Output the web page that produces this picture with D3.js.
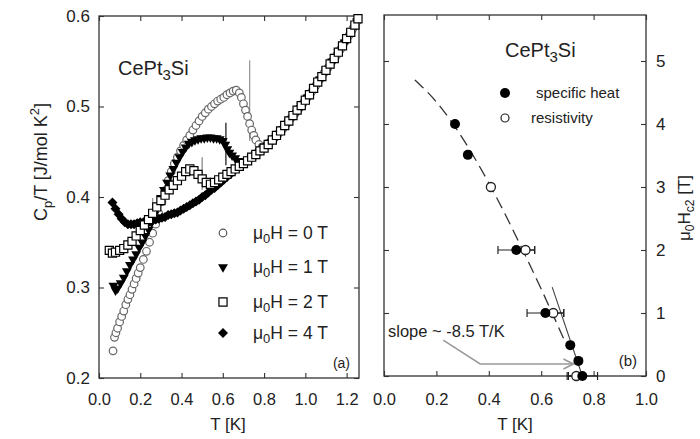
<!DOCTYPE html>
<html><head><meta charset="utf-8">
<script src="https://cdn.jsdelivr.net/npm/d3@7"></script>
<style>
body{margin:0;background:#fff;}
svg text{font-family:"Liberation Sans",Arial,sans-serif;fill:#222;}
</style></head><body>
<svg id="chart" width="700" height="439"></svg>
<script>
////////////////////////////////////////////////////////////
//////////////////////// Data //////////////////////////////
////////////////////////////////////////////////////////////
// panel (a): Cp/T vs T, [T (K), Cp/T (J/mol K^2)]
var field0T = [[0.068,0.230],[0.075,0.245],[0.082,0.250],[0.090,0.255],[0.100,0.262],[0.110,0.268],[0.120,0.274],
  [0.130,0.281],[0.140,0.287],[0.150,0.292],[0.160,0.298],[0.170,0.304],[0.180,0.310],[0.190,0.316],[0.200,0.322],
  [0.215,0.331],[0.230,0.340],[0.245,0.350],[0.260,0.360],[0.275,0.370],[0.290,0.382],[0.305,0.395],[0.320,0.407],
  [0.335,0.418],[0.350,0.428],[0.365,0.437],[0.380,0.444],[0.395,0.451],[0.410,0.457],[0.425,0.463],[0.440,0.468],
  [0.455,0.474],[0.470,0.479],[0.485,0.484],[0.500,0.489],[0.515,0.493],[0.530,0.497],[0.545,0.500],[0.560,0.503],
  [0.575,0.506],[0.590,0.508],[0.605,0.510],[0.620,0.513],[0.635,0.515],[0.650,0.517],[0.665,0.518],[0.680,0.515],
  [0.690,0.510],[0.700,0.503],[0.710,0.496],[0.720,0.489],[0.730,0.481],[0.740,0.474],[0.750,0.468],[0.760,0.463],
  [0.775,0.458],[0.790,0.455],[0.810,0.457],[0.830,0.461],[0.850,0.465],[0.870,0.470],[0.890,0.475],[0.910,0.481],
  [0.930,0.487],[0.950,0.492],[0.970,0.498],[0.990,0.504],[1.010,0.510],[1.030,0.516],[1.050,0.523],[1.070,0.530],
  [1.090,0.537],[1.110,0.543],[1.130,0.550],[1.150,0.556],[1.170,0.563],[1.190,0.571],[1.210,0.578],[1.230,0.586],
  [1.250,0.594]];
var field1T = [[0.070,0.302],[0.080,0.297],[0.090,0.299],[0.105,0.305],[0.120,0.311],[0.135,0.318],[0.150,0.325],
  [0.165,0.331],[0.180,0.337],[0.195,0.344],[0.210,0.350],[0.225,0.357],[0.240,0.364],[0.255,0.372],[0.270,0.381],
  [0.285,0.390],[0.300,0.399],[0.315,0.408],[0.330,0.416],[0.345,0.424],[0.360,0.431],[0.375,0.438],[0.390,0.444],
  [0.405,0.450],[0.420,0.455],[0.435,0.459],[0.450,0.461],[0.465,0.463],[0.480,0.464],[0.495,0.465],[0.510,0.465],
  [0.525,0.466],[0.540,0.466],[0.555,0.465],[0.570,0.465],[0.585,0.464],[0.600,0.462],[0.612,0.458],[0.622,0.453],
  [0.632,0.449],[0.645,0.446],[0.660,0.443],[0.675,0.440],[0.690,0.438],[0.705,0.438],[0.720,0.440],[0.740,0.444],
  [0.760,0.447],[0.780,0.451],[0.800,0.454],[0.830,0.460],[0.860,0.467],[0.890,0.475],[0.920,0.484],[0.950,0.492],
  [0.980,0.501],[1.010,0.510],[1.040,0.520],[1.070,0.530],[1.100,0.540],[1.130,0.550],[1.160,0.560],[1.190,0.571],
  [1.220,0.582],[1.250,0.594]];
var field2T = [[0.050,0.341],[0.065,0.338],[0.080,0.339],[0.100,0.341],[0.120,0.343],[0.140,0.347],[0.160,0.351],
  [0.180,0.357],[0.200,0.363],[0.220,0.369],[0.240,0.375],[0.260,0.382],[0.280,0.389],[0.300,0.396],[0.320,0.402],
  [0.340,0.408],[0.360,0.413],[0.380,0.418],[0.400,0.423],[0.420,0.428],[0.440,0.431],[0.460,0.429],[0.480,0.425],
  [0.500,0.420],[0.520,0.416],[0.540,0.414],[0.560,0.416],[0.580,0.419],[0.600,0.422],[0.620,0.425],[0.640,0.428],
  [0.660,0.431],[0.680,0.434],[0.700,0.437],[0.720,0.440],[0.740,0.444],[0.760,0.447],[0.780,0.451],[0.800,0.454],
  [0.820,0.458],[0.840,0.463],[0.860,0.468],[0.880,0.473],[0.900,0.479],[0.920,0.484],[0.940,0.490],[0.960,0.496],
  [0.980,0.501],[1.000,0.507],[1.020,0.513],[1.040,0.520],[1.060,0.527],[1.080,0.533],[1.100,0.540],[1.120,0.547],
  [1.140,0.553],[1.160,0.560],[1.180,0.567],[1.200,0.575],[1.220,0.582],[1.240,0.590],[1.255,0.597]];
var field4T = [[0.065,0.394],[0.080,0.387],[0.095,0.381],[0.110,0.376],[0.125,0.372],[0.140,0.370],[0.155,0.370],
  [0.170,0.370],[0.185,0.371],[0.200,0.372],[0.215,0.372],[0.230,0.373],[0.245,0.373],[0.260,0.374],[0.275,0.375],
  [0.290,0.376],[0.305,0.377],[0.320,0.378],[0.335,0.380],[0.350,0.381],[0.365,0.382],[0.380,0.383],[0.395,0.385],
  [0.410,0.387],[0.425,0.389],[0.440,0.391],[0.455,0.393],[0.470,0.395],[0.485,0.397],[0.500,0.400],[0.515,0.402],
  [0.530,0.405],[0.545,0.408],[0.560,0.410],[0.575,0.413],[0.590,0.416],[0.605,0.419],[0.620,0.422],[0.640,0.426],
  [0.660,0.430],[0.680,0.434],[0.700,0.437],[0.720,0.441],[0.740,0.444],[0.760,0.448],[0.780,0.451],[0.800,0.455],
  [0.830,0.461],[0.860,0.468],[0.890,0.476],[0.920,0.485],[0.950,0.493],[0.980,0.501],[1.010,0.510],[1.040,0.520],
  [1.070,0.530],[1.100,0.540],[1.130,0.550],[1.160,0.560],[1.190,0.571],[1.220,0.582]];
// Tc markers: [T, Cp/T low, Cp/T high, colour]
var tcMarks = [[0.730,0.462,0.551,"#9a9a9a"],[0.615,0.435,0.482,"#222"],[0.500,0.408,0.444,"#8a8a8a"],[0.260,0.383,0.399,"#9a9a9a"]];
var legendA = ["0","1","2","4"];

// panel (b): Hc2 vs T, [T (K), mu0Hc2 (T), error in T]
var specHeat = [[0.271,4.0,0],[0.320,3.51,0],[0.505,2.0,0.07],[0.616,1.0,0.07],[0.711,0.49,0],[0.742,0.24,0],[0.757,0,0.058]];
var resist = [[0.408,3.0,0],[0.540,2.0,0.035],[0.646,1.0,0.04],[0.734,0,0.03]];
var whhT = [0.118,0.20,0.28,0.36,0.44,0.52,0.60,0.685];
var whhH = [4.70,4.35,3.90,3.36,2.75,2.08,1.38,0.60];
var slopeLine = [[0.642,1.41],[0.757,0.0]];
var arrowPts = [[0.226,0.57],[0.367,0.19],[0.723,0.19]];

var ticksTa = [0,0.2,0.4,0.6,0.8,1.0,1.2],
    ticksCa = [0.2,0.3,0.4,0.5,0.6],
    ticksTb = [0,0.2,0.4,0.6,0.8,1.0],
    ticksHb = [0,1,2,3,4,5];

////////////////////////////////////////////////////////////
//////////////////////// Set-Up ////////////////////////////
////////////////////////////////////////////////////////////
var svg = d3.select("#chart");
var font = '"Liberation Sans",Arial,sans-serif';

var xA = d3.scaleLinear().domain([0,1.26]).range([99,359]);
var yA = d3.scaleLinear().domain([0.2,0.6]).range([378,16]);
var xB = d3.scaleLinear().domain([0,1.0]).range([384,646]);
var yB = d3.scaleLinear().domain([0,5.73]).range([376,15]);

function styleAxis(size) {
    return function(g) {
        g.select(".domain").remove();
        g.selectAll("line").attr("stroke","#333").attr("stroke-width",1.1);
        g.selectAll("text").attr("font-size",size).attr("font-family",font).attr("fill","#333");
    };
}

function frame(x, y) {
    svg.append("rect")
       .attr("x", x.range()[0]).attr("y", y.range()[1])
       .attr("width", x.range()[1]-x.range()[0])
       .attr("height", y.range()[0]-y.range()[1])
       .attr("fill","none").attr("stroke","#333").attr("stroke-width",1.3);
}

var fmt = d3.format(".1f");

// axes panel a
svg.append("g").attr("transform","translate(0,378)")
   .call(d3.axisBottom(xA).tickValues(ticksTa).tickSize(-5).tickPadding(15).tickFormat(fmt)).call(styleAxis(16.5));
svg.append("g").attr("transform","translate(0,16)")
   .call(d3.axisTop(xA).tickValues(ticksTa).tickSize(-5).tickFormat("")).call(styleAxis(16));
svg.append("g").attr("transform","translate(99,0)")
   .call(d3.axisLeft(yA).tickValues(ticksCa).tickSize(-5).tickPadding(9).tickFormat(fmt)).call(styleAxis(17));
svg.append("g").attr("transform","translate(359,0)")
   .call(d3.axisRight(yA).tickValues(ticksCa).tickSize(-5).tickFormat("")).call(styleAxis(16));
frame(xA, yA);

// axes panel b
svg.append("g").attr("transform","translate(0,376)")
   .call(d3.axisBottom(xB).tickValues(ticksTb).tickSize(-5).tickPadding(17).tickFormat(fmt)).call(styleAxis(16.5));
svg.append("g").attr("transform","translate(0,15)")
   .call(d3.axisTop(xB).tickValues(ticksTb).tickSize(-5).tickFormat("")).call(styleAxis(16));
svg.append("g").attr("transform","translate(384,0)")
   .call(d3.axisLeft(yB).tickValues(ticksHb).tickSize(-5).tickFormat("")).call(styleAxis(16));
svg.append("g").attr("transform","translate(646,0)")
   .call(d3.axisRight(yB).tickValues(ticksHb).tickSize(-5).tickPadding(10).tickFormat(d3.format("d"))).call(styleAxis(17));
frame(xB, yB);

// axis titles
svg.append("text").attr("x",228).attr("y",430).attr("text-anchor","middle").attr("font-size",17).text("T [K]");
svg.append("text").attr("x",515).attr("y",430).attr("text-anchor","middle").attr("font-size",17).text("T [K]");

var yl = svg.append("text").attr("transform","translate(47,162) rotate(-90)")
            .attr("text-anchor","middle").attr("font-size",18);
yl.append("tspan").text("C");
yl.append("tspan").attr("font-size",13).attr("dy",5).text("p");
yl.append("tspan").attr("dy",-5).text("/T [J/mol K");
yl.append("tspan").attr("font-size",13).attr("dy",-8).text("2");
yl.append("tspan").attr("dy",8).text("]");

var yr = svg.append("text").attr("transform","translate(690,208) rotate(-90)")
            .attr("text-anchor","middle").attr("font-size",17);
yr.append("tspan").text("\u03bc");
yr.append("tspan").attr("font-size",12).attr("dy",4).text("0");
yr.append("tspan").attr("dy",-4).text("H");
yr.append("tspan").attr("font-size",12).attr("dy",4).text("c2");
yr.append("tspan").attr("dy",-4).text(" [T]");

////////////////////////////////////////////////////////////
//////////////////////// Panel (a) /////////////////////////
////////////////////////////////////////////////////////////
var gA = svg.append("g");

function compound(x, y, size) {
    var t = svg.append("text").attr("x",x).attr("y",y).attr("font-size",size);
    t.append("tspan").text("CePt");
    t.append("tspan").attr("font-size",size*0.75).attr("dy",5).text("3");
    t.append("tspan").attr("dy",-5).text("Si");
}
compound(118, 75, 20);

// Tc markers
gA.selectAll(".tc").data(tcMarks).enter().append("line")
  .attr("x1", function(d) { return xA(d[0]); })
  .attr("x2", function(d) { return xA(d[0]); })
  .attr("y1", function(d) { return yA(d[1]); })
  .attr("y2", function(d) { return yA(d[2]); })
  .attr("stroke", function(d) { return d[3]; })
  .attr("stroke-width", 1.3);

var triSym = d3.symbol().type(d3.symbolTriangle).size(42)();
var sqSym = d3.symbol().type(d3.symbolSquare).size(66)();
var diaSym = d3.symbol().type(d3.symbolSquare).size(50)();

// 0 T circles
gA.selectAll(".c0").data(field0T).enter().append("circle")
  .attr("cx", function(d) { return xA(d[0]); })
  .attr("cy", function(d) { return yA(d[1]); })
  .attr("r", 3.8).attr("fill","#fff").attr("stroke","#666").attr("stroke-width",1.2);
// 4 T diamonds
gA.selectAll(".c4").data(field4T).enter().append("path")
  .attr("d", diaSym)
  .attr("transform", function(d) { return "translate(" + xA(d[0]) + "," + yA(d[1]) + ") rotate(45)"; })
  .attr("fill","#000");
// 1 T triangles (down)
gA.selectAll(".c1").data(field1T).enter().append("path")
  .attr("d", triSym)
  .attr("transform", function(d) { return "translate(" + xA(d[0]) + "," + yA(d[1]) + ") rotate(180)"; })
  .attr("fill","#000");
// 2 T squares
gA.selectAll(".c2").data(field2T).enter().append("path")
  .attr("d", sqSym)
  .attr("transform", function(d) { return "translate(" + xA(d[0]) + "," + yA(d[1]) + ")"; })
  .attr("fill","#fff").attr("stroke","#000").attr("stroke-width",1.2);

// legend (a)
var legY = [233,267,302,333];
var lg = svg.append("g");
lg.append("circle").attr("cx",223).attr("cy",legY[0]).attr("r",3.8).attr("fill","#fff").attr("stroke","#555").attr("stroke-width",1.2);
lg.append("path").attr("d",triSym).attr("transform","translate(223,"+legY[1]+") rotate(180)").attr("fill","#000");
lg.append("path").attr("d",sqSym).attr("transform","translate(223,"+legY[2]+")").attr("fill","#fff").attr("stroke","#000").attr("stroke-width",1.2);
lg.append("path").attr("d",diaSym).attr("transform","translate(223,"+legY[3]+") rotate(45)").attr("fill","#000");
legendA.forEach(function(v, i) {
    var t = lg.append("text").attr("x",253).attr("y",legY[i]+6).attr("font-size",17.5);
    t.append("tspan").text("\u03bc");
    t.append("tspan").attr("font-size",13).attr("dy",4).text("0");
    t.append("tspan").attr("dy",-4).text("H = " + v + " T");
});
svg.append("text").attr("x",350).attr("y",368).attr("text-anchor","end").attr("font-size",14).text("(a)");

////////////////////////////////////////////////////////////
//////////////////////// Panel (b) /////////////////////////
////////////////////////////////////////////////////////////
var gB = svg.append("g");
compound(505, 57, 20);

// dashed curve
var dashLine = d3.line().curve(d3.curveMonotoneX)
    .x(function(d, i) { return xB(whhT[i]); })
    .y(function(d, i) { return yB(whhH[i]); });
gB.append("path").attr("d", dashLine(whhT))
  .attr("fill","none").attr("stroke","#333").attr("stroke-width",1.3).attr("stroke-dasharray","12,6");

// slope line
gB.append("line")
  .attr("x1", xB(slopeLine[0][0])).attr("y1", yB(slopeLine[0][1]))
  .attr("x2", xB(slopeLine[1][0])).attr("y2", yB(slopeLine[1][1]))
  .attr("stroke","#444").attr("stroke-width",1.1);

// arrow
var arrowLine = d3.line().x(function(d) { return xB(d[0]); }).y(function(d) { return yB(d[1]); });
gB.append("path").attr("d", arrowLine(arrowPts))
  .attr("fill","none").attr("stroke","#999").attr("stroke-width",1.6);
var tip = arrowPts[arrowPts.length-1];
gB.append("path")
  .attr("d", "M" + (xB(tip[0])-10) + "," + (yB(tip[1])-5) + "L" + xB(tip[0]) + "," + yB(tip[1]) + "L" + (xB(tip[0])-10) + "," + (yB(tip[1])+5))
  .attr("fill","none").attr("stroke","#999").attr("stroke-width",1.6);
svg.append("text").attr("x",388).attr("y",337).attr("font-size",16.5).text("slope ~ -8.5 T/K");

// error bars
function errBars(data) {
    var e = data.filter(function(d) { return d[2] > 0; });
    gB.selectAll(null).data(e).enter().append("line")
      .attr("x1", function(d) { return xB(d[0]-d[2]); })
      .attr("x2", function(d) { return xB(d[0]+d[2]); })
      .attr("y1", function(d) { return yB(d[1]); })
      .attr("y2", function(d) { return yB(d[1]); })
      .attr("stroke","#222").attr("stroke-width",1.2);
    [-1,1].forEach(function(s) {
        gB.selectAll(null).data(e).enter().append("line")
          .attr("x1", function(d) { return xB(d[0]+s*d[2]); })
          .attr("x2", function(d) { return xB(d[0]+s*d[2]); })
          .attr("y1", function(d) { return yB(d[1])-4; })
          .attr("y2", function(d) { return yB(d[1])+4; })
          .attr("stroke","#222").attr("stroke-width",1.2);
    });
}
errBars(specHeat);
errBars(resist);

gB.selectAll(".res").data(resist).enter().append("circle")
  .attr("cx", function(d) { return xB(d[0]); })
  .attr("cy", function(d) { return yB(d[1]); })
  .attr("r", 4.5).attr("fill","#fff").attr("stroke","#222").attr("stroke-width",1.3);
gB.selectAll(".sh").data(specHeat).enter().append("circle")
  .attr("cx", function(d) { return xB(d[0]); })
  .attr("cy", function(d) { return yB(d[1]); })
  .attr("r", 5).attr("fill","#000");

// legend (b)
svg.append("circle").attr("cx",505).attr("cy",93).attr("r",5).attr("fill","#000");
svg.append("circle").attr("cx",505).attr("cy",118).attr("r",4).attr("fill","#fff").attr("stroke","#222").attr("stroke-width",1.2);
svg.append("text").attr("x",536).attr("y",98).attr("font-size",15).text("specific heat");
svg.append("text").attr("x",531).attr("y",123).attr("font-size",15).text("resistivity");
svg.append("text").attr("x",637).attr("y",366).attr("text-anchor","end").attr("font-size",15).text("(b)");
</script>
</body></html>
